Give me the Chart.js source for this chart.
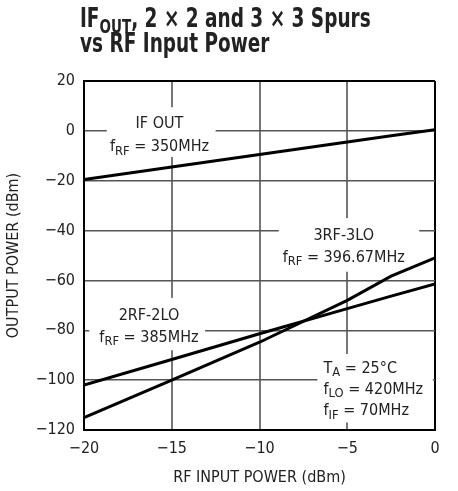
<!DOCTYPE html>
<html>
<head>
<meta charset="utf-8">
<script src="https://cdn.jsdelivr.net/npm/chart.js@4"></script>
<style>
  html, body { margin: 0; padding: 0; background: #fff; }
  #wrap { width: 458px; height: 491px; position: relative; }
</style>
</head>
<body>
<div id="wrap"><canvas id="graf" width="458" height="491"></canvas></div>
<script>
const FONT = "'Liberation Sans Narrow', 'DejaVu Sans Condensed', 'Liberation Sans', sans-serif";

// RF input power (dBm)
const rfInput = [-20, -15, -10, -5, -2.5, 0];
// output power (dBm)
const ifOut = [-19.5, -14.5, -9.5, -4.5, -2, 0.5];
const spur2x2 = [-102, -91.7, -81.4, -71.3, -66.3, -61.4];
const spur3x3 = [-115, -100, -84.8, -68, -58.3, -51];

const xTicks = [-20, -15, -10, -5, 0];
const yTicks = [20, 0, -20, -40, -60, -80, -100, -120];

// text labels in data coordinates; [text, subscript] parts
const notes = [
  { x: -15.7, y: 3, align: 'center', parts: [['IF OUT', '']] },
  { x: -15.7, y: -6.6, align: 'center', parts: [['f', ''], ['RF', 'sub'], [' = 350MHz', '']] },
  { x: -5.2, y: -42.3, align: 'center', parts: [['3RF-3LO', '']] },
  { x: -5.2, y: -51, align: 'center', parts: [['f', ''], ['RF', 'sub'], [' = 396.67MHz', '']] },
  { x: -16.3, y: -74.2, align: 'center', parts: [['2RF-2LO', '']] },
  { x: -16.3, y: -83, align: 'center', parts: [['f', ''], ['RF', 'sub'], [' = 385MHz', '']] },
  { x: -6.35, y: -95.5, align: 'left', parts: [['T', ''], ['A', 'sub'], [' = 25°C', '']] },
  { x: -6.35, y: -104, align: 'left', parts: [['f', ''], ['LO', 'sub'], [' = 420MHz', '']] },
  { x: -6.35, y: -112.5, align: 'left', parts: [['f', ''], ['IF', 'sub'], [' = 70MHz', '']] }
];

// white boxes behind labels, data coordinates [x0, y0, x1, y1]
const masks = [
  [-18.7, 9.5, -12.5, -10.5],
  [-8.9, -35, -0.9, -56.5],
  [-19.7, -67, -13.1, -88],
  [-6.7, -89.5, -0.12, -117]
];

function minus(v) {
  return String(v).replace('-', '\u2212');
}

function drawParts(c, parts, x, y, align, size) {
  let w = 0;
  parts.forEach(p => {
    c.font = (p[1] ? size * 0.8 : size) + 'px ' + FONT;
    w += c.measureText(p[0]).width;
  });
  let cx = align === 'center' ? x - w / 2 : x;
  c.textAlign = 'left';
  c.textBaseline = 'middle';
  parts.forEach(p => {
    c.font = (p[1] ? size * 0.8 : size) + 'px ' + FONT;
    c.fillText(p[0], cx, p[1] ? y + 4 : y);
    cx += c.measureText(p[0]).width;
  });
}

const notesPlugin = {
  id: 'notes',
  beforeDatasetsDraw(chart) {
    const c = chart.ctx;
    const xs = chart.scales.x, ys = chart.scales.y;
    c.save();
    c.fillStyle = '#fff';
    masks.forEach(m => {
      const x0 = xs.getPixelForValue(m[0]), x1 = xs.getPixelForValue(m[2]);
      const y0 = ys.getPixelForValue(m[1]), y1 = ys.getPixelForValue(m[3]);
      c.fillRect(x0, y0, x1 - x0, y1 - y0);
    });
    c.fillStyle = '#222';
    notes.forEach(n => {
      drawParts(c, n.parts, xs.getPixelForValue(n.x), ys.getPixelForValue(n.y), n.align, 16);
    });
    c.restore();
  },
  afterDraw(chart) {
    // title, squeezed horizontally to look like a condensed face
    const c = chart.ctx;
    c.save();
    c.fillStyle = '#222';
    c.textBaseline = 'alphabetic';
    c.textAlign = 'left';
    c.translate(80, 0);
    c.scale(0.79, 1);
    const big = 'bold 26px ' + FONT;
    c.font = big;
    let x = 0;
    c.fillText('IF', x, 27);
    x += c.measureText('IF').width;
    c.font = 'bold 19px ' + FONT;
    c.fillText('OUT', x, 33);
    x += c.measureText('OUT').width;
    c.font = big;
    c.fillText(', 2 \u00d7 2 and 3 \u00d7 3 Spurs', x, 27);
    c.fillText('vs RF Input Power', 0, 52);
    c.restore();
  }
};

const ctx = document.getElementById('graf').getContext('2d');

const data = {
  labels: rfInput,
  datasets: [
    { label: 'IF OUT', data: ifOut },
    { label: '2RF-2LO', data: spur2x2 },
    { label: '3RF-3LO', data: spur3x3 }
  ].map(d => ({
    ...d,
    data: d.data.map((v, i) => ({ x: rfInput[i], y: v })),
    borderColor: '#000',
    borderWidth: 3,
    pointRadius: 0,
    tension: 0,
    fill: false
  }))
};

const config = {
  type: 'line',
  data: data,
  options: {
    responsive: false,
    animation: false,
    layout: { padding: { top: 81, right: 23, left: 0, bottom: 0 } },
    plugins: { legend: { display: false }, tooltip: { enabled: false } },
    scales: {
      x: {
        type: 'linear',
        min: -20,
        max: 0,
        afterBuildTicks: (s) => { s.ticks = xTicks.map(v => ({ value: v })); },
        afterFit: (s) => { s.height = 61; },
        border: { color: '#000', width: 2 },
        grid: {
          drawTicks: false,
          color: (c) => c.tick && c.tick.value === 0 ? '#000' : '#777',
          lineWidth: 2
        },
        ticks: {
          padding: 9,
          color: '#222',
          font: { family: FONT, size: 16 },
          callback: (v) => minus(v)
        },
        title: {
          display: true,
          text: 'RF INPUT POWER (dBm)',
          color: '#222',
          font: { family: FONT, size: 16 },
          padding: { top: 6 }
        }
      },
      y: {
        min: -120,
        max: 20,
        afterBuildTicks: (s) => { s.ticks = yTicks.map(v => ({ value: v })); },
        afterFit: (s) => { s.width = 84; },
        border: { color: '#000', width: 2 },
        grid: {
          drawTicks: false,
          color: (c) => c.tick && c.tick.value === 20 ? '#000' : '#555',
          lineWidth: (c) => c.tick && c.tick.value === 20 ? 2 : 1.5
        },
        ticks: {
          padding: 9,
          color: '#222',
          font: { family: FONT, size: 16 },
          callback: (v) => minus(v)
        },
        title: {
          display: true,
          text: 'OUTPUT POWER (dBm)',
          color: '#222',
          font: { family: FONT, size: 16 },
          padding: { bottom: 4 }
        }
      }
    }
  },
  plugins: [notesPlugin]
};

const myChart = new Chart(ctx, config);
</script>
</body>
</html>
